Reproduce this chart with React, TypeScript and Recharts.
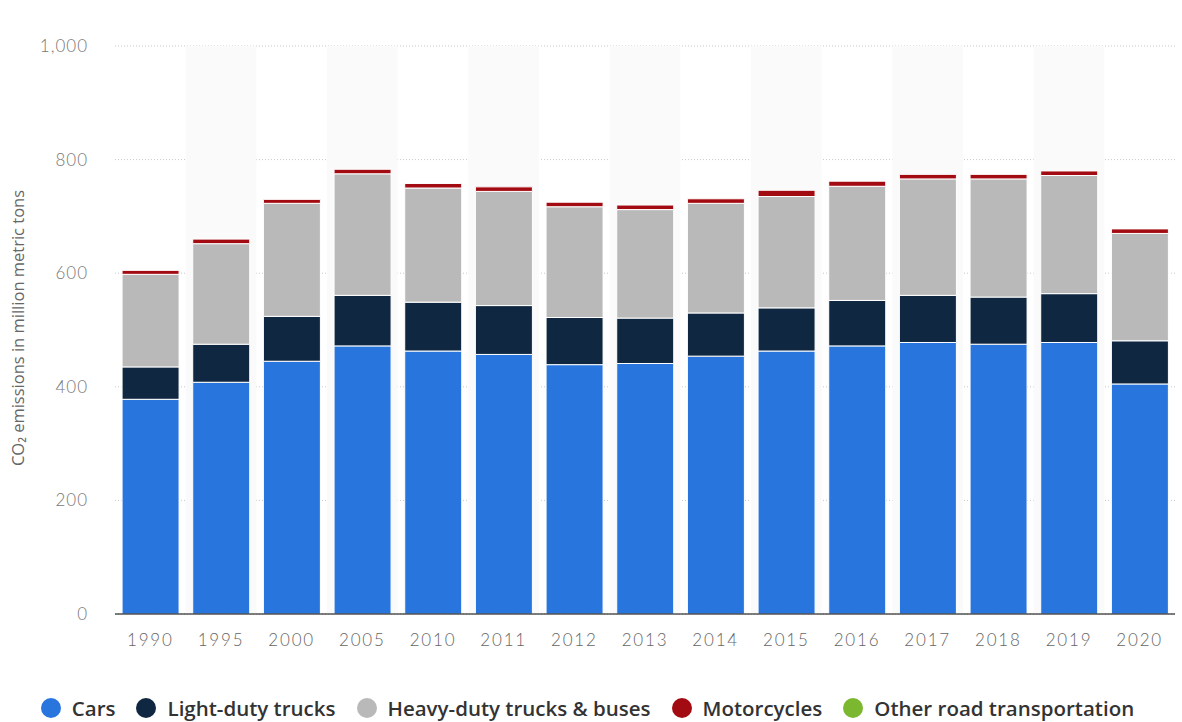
import React from "react";
import { BarChart, Bar, XAxis, YAxis, CartesianGrid, Legend, ReferenceArea } from "recharts";

const years = ["1990","1995","2000","2005","2010","2011","2012","2013","2014","2015","2016","2017","2018","2019","2020"];
const cars = [378, 408, 445, 472, 463, 457, 439, 441, 454, 463, 472, 478, 475, 478, 405];
const lightDuty = [57, 67, 79, 89, 86, 86, 83, 80, 76, 76, 80, 83, 83, 86, 76];
const heavyDuty = [163, 177, 199, 214, 201, 201, 195, 191, 193, 196, 201, 205, 208, 208, 189];
const motorcycles = [7, 8, 7, 8, 8, 8, 8, 8, 8, 11, 9, 8, 8, 8, 8];
const otherRoad = [0, 0, 0, 0, 0, 0, 0, 0, 0, 0, 0, 0, 0, 0, 0];
const yTicks = [0, 200, 400, 600, 800, 1000];

const seriesList = [
  { key: "cars", name: "Cars", color: "#2876dd", values: cars },
  { key: "light", name: "Light-duty trucks", color: "#0f2741", values: lightDuty },
  { key: "heavy", name: "Heavy-duty trucks & buses", color: "#b9b9b9", values: heavyDuty },
  { key: "moto", name: "Motorcycles", color: "#a30b12", values: motorcycles },
  { key: "other", name: "Other road transportation", color: "#7cb82f", values: otherRoad },
];

const data = years.map((y, i) => {
  const row: any = { year: y };
  seriesList.forEach((s) => (row[s.key] = s.values[i]));
  return row;
});

const shadedYears = years.filter((_, i) => i % 2 === 1);

const LegendContent = () => (
  <div
    style={{
      height: 62,
      boxSizing: "border-box",
      paddingTop: 34,
      display: "flex",
      justifyContent: "center",
      alignItems: "center",
      fontFamily: "'Open Sans', sans-serif",
      fontSize: 20.5,
      fontWeight: 600,
      color: "#333",
      whiteSpace: "nowrap",
    }}
  >
    {seriesList.map((s, i) => (
      <div key={s.key} style={{ display: "flex", alignItems: "center", marginLeft: i === 0 ? 0 : 21 }}>
        <span
          style={{
            display: "inline-block",
            width: 20,
            height: 20,
            borderRadius: "50%",
            background: s.color,
            marginRight: 11,
          }}
        />
        <span>{s.name}</span>
      </div>
    ))}
  </div>
);

export default function App() {
  return (
    <div style={{ position: "absolute", left: 0, top: 0, background: "#fff" }}>
      <BarChart
        width={1182}
        height={722}
        data={data}
        margin={{ top: 46, right: 7, bottom: 0, left: 0 }}
        barCategoryGap="10%"
      >
        {shadedYears.map((y) => (
          <ReferenceArea key={y} x1={y} x2={y} y1={0} y2={1000} fill="#fafafa" fillOpacity={1} stroke="none" ifOverflow="visible" />
        ))}
        <CartesianGrid vertical={false} stroke="#c8c8c8" strokeDasharray="1 2" />
        <XAxis
          dataKey="year"
          height={46}
          tickLine={false}
          tickSize={0}
          tickMargin={20}
          axisLine={{ stroke: "#000", strokeWidth: 1 }}
          tick={{ fill: "#666", fontSize: 17, fontWeight: 300, fontFamily: "Lato, sans-serif", letterSpacing: 1.8 }}
          interval={0}
        />
        <YAxis
          width={115}
          domain={[0, 1000]}
          ticks={yTicks}
          tickFormatter={(v: number) => v.toLocaleString("en-US")}
          tickLine={false}
          tickSize={0}
          tickMargin={27}
          axisLine={false}
          tick={{ fill: "#777", fontSize: 17, fontWeight: 300, fontFamily: "Lato, sans-serif", letterSpacing: 1 }}
          label={{
            content: () => (
              <text
                x={17}
                y={328}
                transform="rotate(-90 17 328)"
                textAnchor="middle"
                dominantBaseline="central"
                fill="#666"
                fontSize={16.5}
                fontFamily="'Open Sans', sans-serif"
              >
                CO₂ emissions in million metric tons
              </text>
            ),
          }}
        />
        <Legend verticalAlign="bottom" content={<LegendContent />} />
        {seriesList.map((s) => (
          <Bar
            key={s.key}
            dataKey={s.key}
            name={s.name}
            stackId="a"
            fill={s.color}
            stroke="#fff"
            strokeWidth={1}
            isAnimationActive={false}
          />
        ))}
      </BarChart>
    </div>
  );
}
